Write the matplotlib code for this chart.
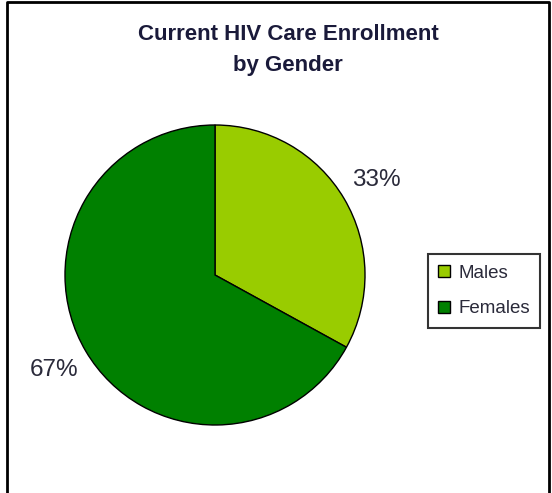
import matplotlib
matplotlib.use("Agg")
import matplotlib.pyplot as plt
from matplotlib.lines import Line2D

labels = ["Males", "Females"]
shares = [33, 67]
colors = ["#99CC00", "#008000"]

plt.rcParams["font.family"] = ["Liberation Sans", "DejaVu Sans"]

fig = plt.figure(figsize=(5.52, 4.93), dpi=100)
W, H = 552, 493

# frame around the chart (no bottom edge visible)
fig.add_artist(Line2D([7 / W, 7 / W, 549 / W, 549 / W], [0, 1 - 2 / H, 1 - 2 / H, 0],
                      transform=fig.transFigure, color="black", lw=2))

ax = fig.add_axes([65 / W, (H - 425) / H, 300 / W, 300 / H])
wedges, texts, autotexts = ax.pie(shares, colors=colors, startangle=90, counterclock=False,
                                  autopct="%d%%", pctdistance=1.25,
                                  wedgeprops=dict(edgecolor="black", linewidth=1))
for t in autotexts:
    t.set_fontsize(17.5)
    t.set_color("#2a2a3a")
ax.set_xlim(-1, 1)
ax.set_ylim(-1, 1)
ax.set_aspect("equal")
ax.axis("off")

fig.text(288 / W, 1 - 50 / H, "Current HIV Care Enrollment\nby Gender", ha="center", va="center",
         fontsize=16, fontweight="bold", color="#1a1a3a", linespacing=1.6)

leg = fig.legend(wedges, labels, loc="center", bbox_to_anchor=(484 / W, 1 - 291 / H),
                 frameon=True, fancybox=False, edgecolor="black", fontsize=13.5,
                 handlelength=0.65, handleheight=0.65, handletextpad=0.45, labelspacing=1.0,
                 borderpad=0.55, borderaxespad=0)
leg.get_frame().set_linewidth(1.5)
for t in leg.get_texts():
    t.set_color("#2a2a3a")

fig.savefig("out.png", dpi=100)
